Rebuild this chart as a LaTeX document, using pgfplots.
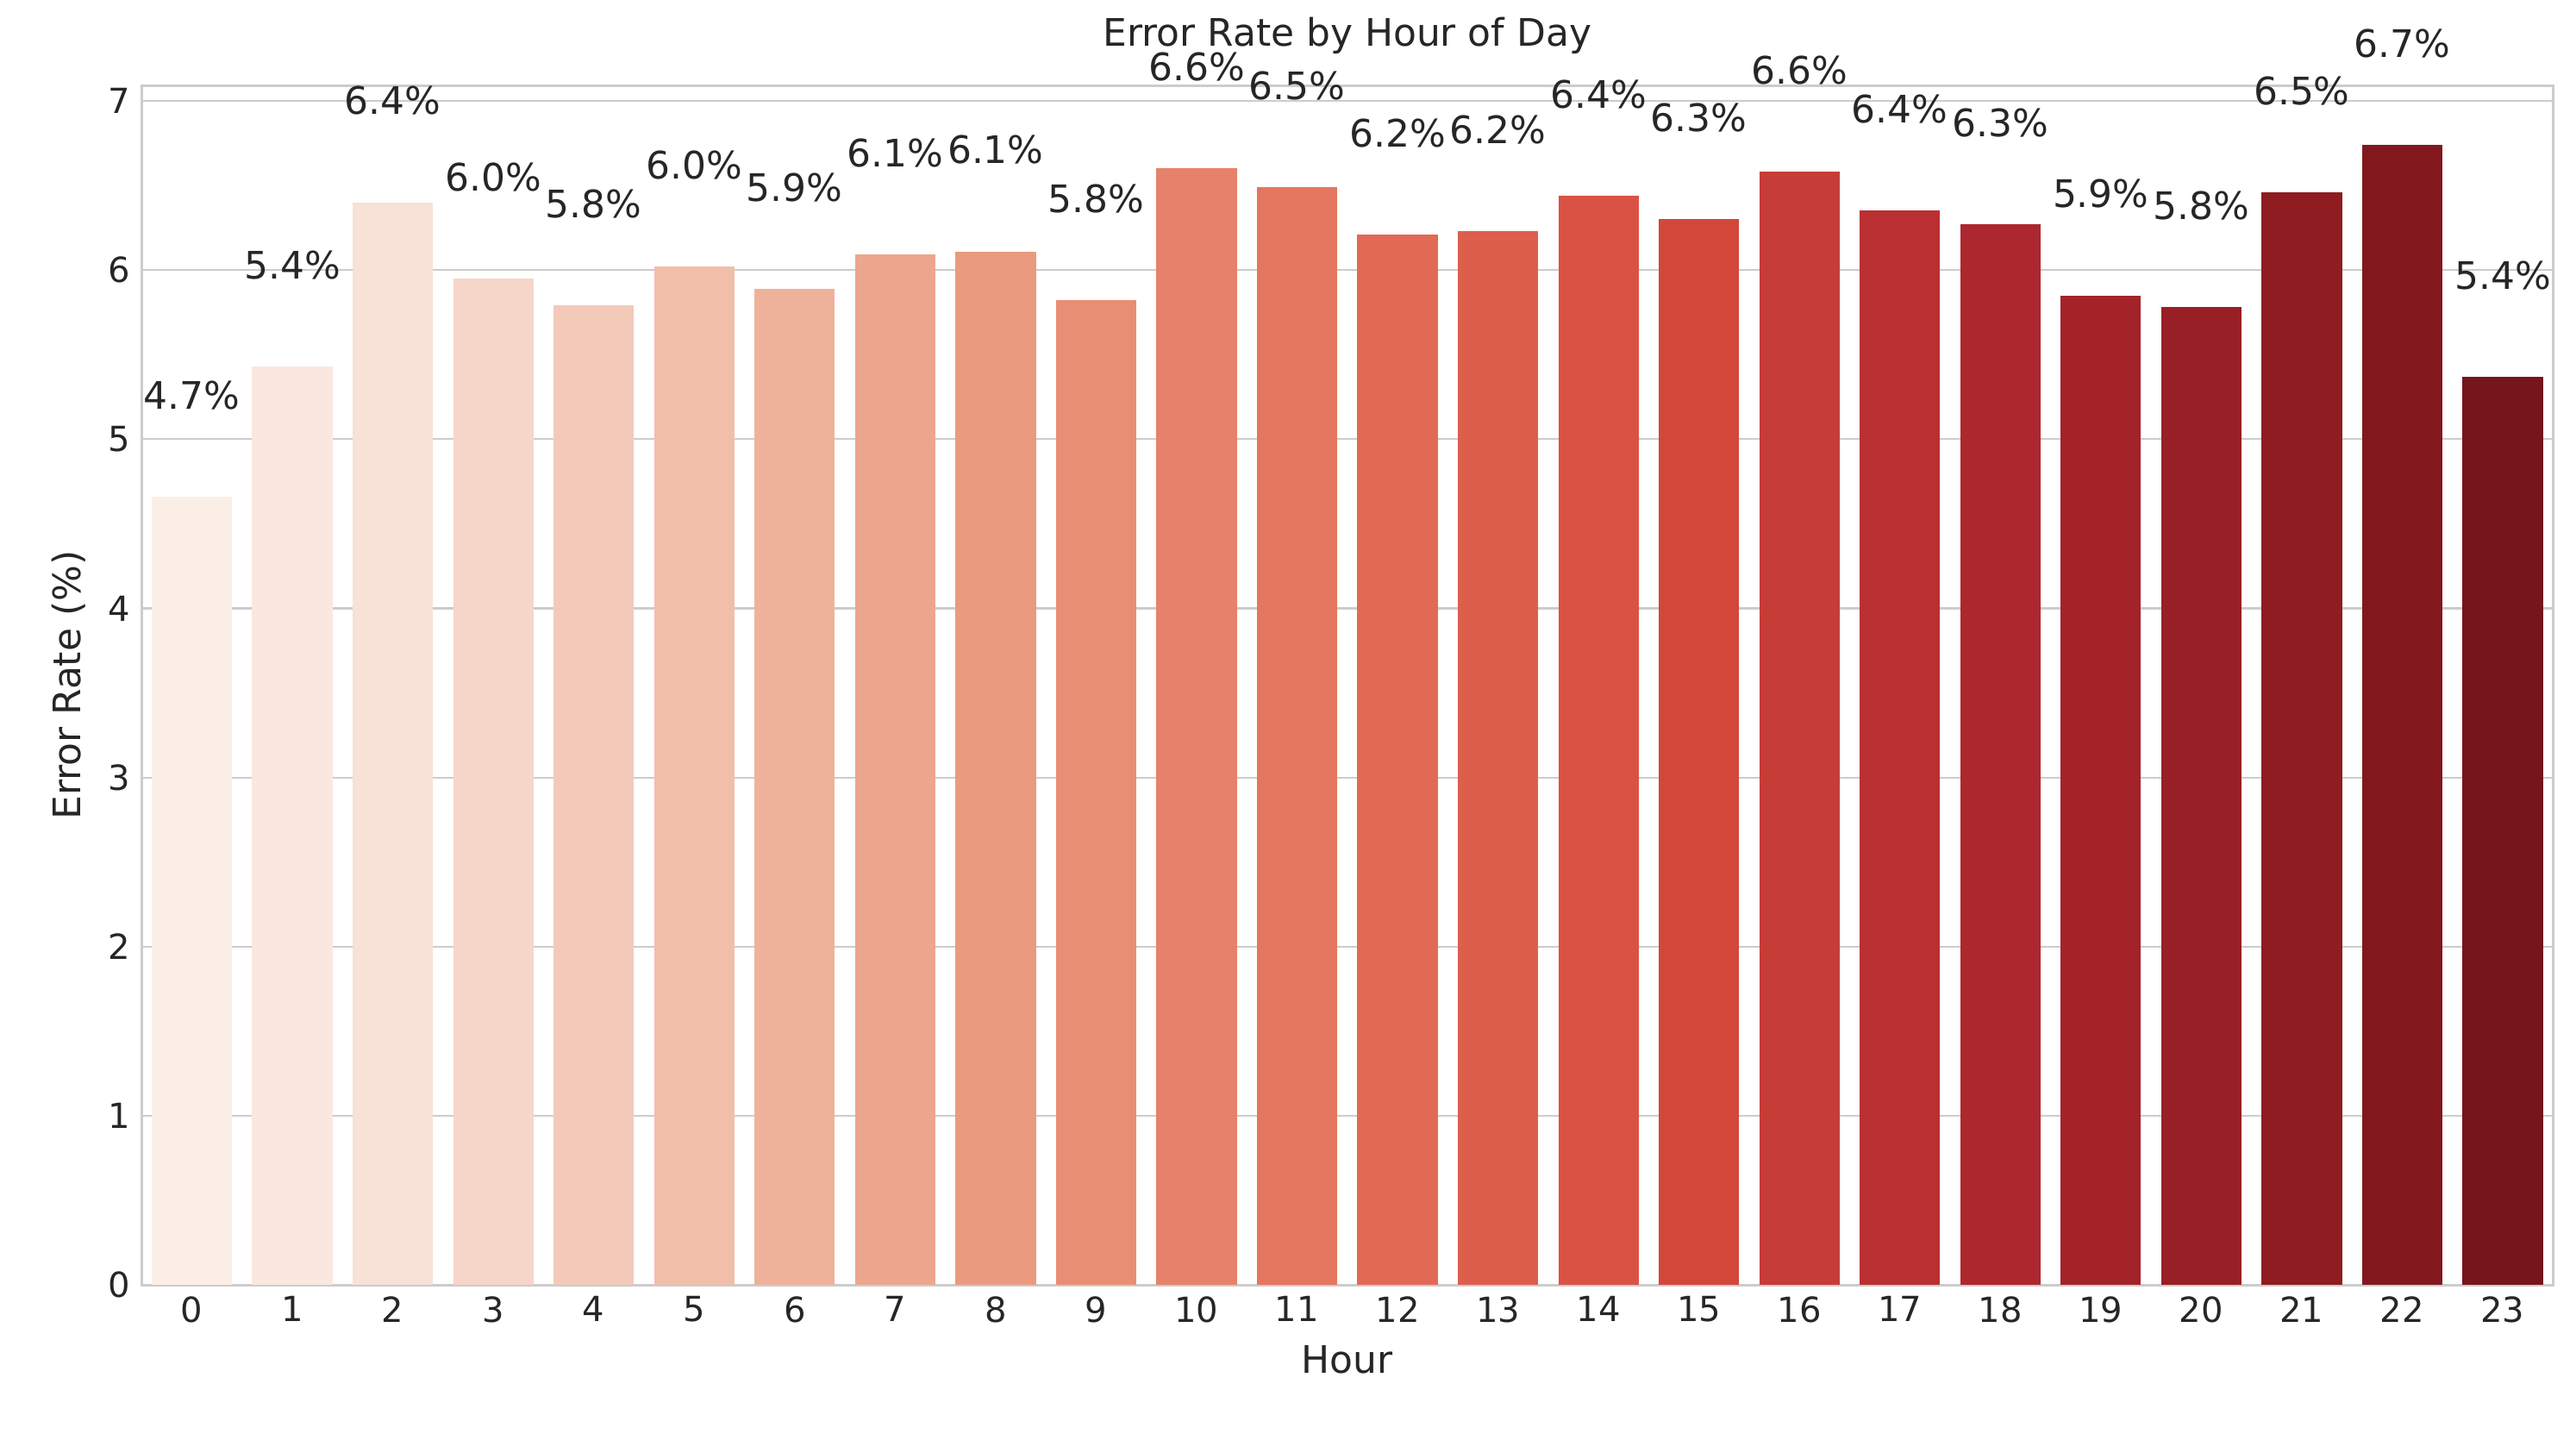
\documentclass[border=0pt]{standalone}
\usepackage{pgfplots}
\usepackage{pgfplotstable}
\pgfplotsset{compat=1.18}
\usepackage{fontspec}
\setmainfont{DejaVu Sans}
\definecolor{A0}{HTML}{FDF4F0}
\definecolor{A1}{HTML}{F8E0D5}
\definecolor{A2}{HTML}{F0BBA6}
\definecolor{A3}{HTML}{E9957A}
\definecolor{A4}{HTML}{E4705A}
\definecolor{A5}{HTML}{D84B3D}
\definecolor{A6}{HTML}{B0282F}
\definecolor{A7}{HTML}{8F1C21}
\definecolor{A8}{HTML}{6A1219}
\colorlet{c0}{A1!32!A0}\colorlet{c1}{A1!64!A0}\colorlet{c2}{A1!96!A0}
\colorlet{c3}{A2!28!A1}\colorlet{c4}{A2!60!A1}\colorlet{c5}{A2!92!A1}
\colorlet{c6}{A3!24!A2}\colorlet{c7}{A3!56!A2}\colorlet{c8}{A3!88!A2}
\colorlet{c9}{A4!20!A3}\colorlet{c10}{A4!52!A3}\colorlet{c11}{A4!84!A3}
\colorlet{c12}{A5!16!A4}\colorlet{c13}{A5!48!A4}\colorlet{c14}{A5!80!A4}
\colorlet{c15}{A6!12!A5}\colorlet{c16}{A6!44!A5}\colorlet{c17}{A6!76!A5}
\colorlet{c18}{A7!8!A6}\colorlet{c19}{A7!40!A6}\colorlet{c20}{A7!72!A6}
\colorlet{c21}{A8!4!A7}\colorlet{c22}{A8!36!A7}\colorlet{c23}{A8!68!A7}
\definecolor{txt}{HTML}{262626}
\pgfplotstableread{
x y ly lab
0 4.66 5.26 4.7\%
1 5.43 6.03 5.4\%
2 6.40 7.00 6.4\%
3 5.95 6.55 6.0\%
4 5.79 6.39 5.8\%
5 6.02 6.62 6.0\%
6 5.89 6.49 5.9\%
7 6.09 6.69 6.1\%
8 6.11 6.71 6.1\%
9 5.82 6.42 5.8\%
10 6.60 7.20 6.6\%
11 6.49 7.09 6.5\%
12 6.21 6.81 6.2\%
13 6.23 6.83 6.2\%
14 6.44 7.04 6.4\%
15 6.30 6.90 6.3\%
16 6.58 7.18 6.6\%
17 6.35 6.95 6.4\%
18 6.27 6.87 6.3\%
19 5.85 6.45 5.9\%
20 5.78 6.38 5.8\%
21 6.46 7.06 6.5\%
22 6.74 7.34 6.7\%
23 5.37 5.97 5.4\%
}\data
\begin{document}
\begin{tikzpicture}
\begin{axis}[
  scale only axis, width=732pt, height=364pt,
  xmin=-0.5, xmax=23.5, ymin=0, ymax=7.09,
  xtick={0,...,23}, ytick={0,...,7},
  major tick length=0pt,
  ymajorgrids, grid style={color=black!20, line width=0.6pt},
  axis line style={color=black!20, line width=0.8pt},
  tick label style={font=\fontsize{10.5}{12}\selectfont, text=txt},
  label style={font=\fontsize{11.5}{13}\selectfont, text=txt},
  /pgf/number format/assume math mode=true,
  xlabel={Hour}, ylabel={Error Rate (\%)},
  title={Error Rate by Hour of Day},
  title style={font=\fontsize{11.5}{13}\selectfont, text=txt, at={(0.5,1)}, anchor=south, yshift=0pt},
  clip=false,
]
\pgfplotsinvokeforeach{0,...,23}{
  \addplot[ybar, bar width=0.8, bar shift=0pt, fill=c#1, draw=none]
    table[x=x, y=y, restrict expr to domain={\thisrow{x}}{#1:#1}] {\data};
}
\addplot[draw=none, mark=none, nodes near coords, point meta=explicit symbolic,
  every node near coord/.style={anchor=center, font=\fontsize{11.5}{13}\selectfont, text=txt}]
  table[x=x, y=ly, meta=lab] {\data};
\end{axis}
\path[use as bounding box] ([xshift=-43pt,yshift=-45pt]current axis.south west) rectangle ([xshift=7pt,yshift=26pt]current axis.north east);
\end{tikzpicture}
\end{document}
